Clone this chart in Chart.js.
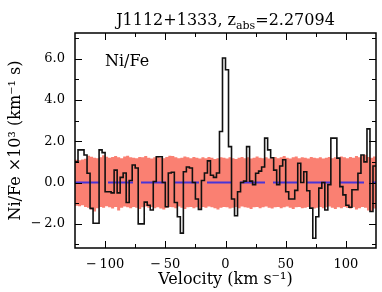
<!DOCTYPE html>
<html>
<head>
<meta charset="utf-8">
<script src="https://cdn.jsdelivr.net/npm/chart.js@4/dist/chart.umd.min.js"></script>
<style>
html, body { margin: 0; padding: 0; background: #fff; }
</style>
</head>
<body>
<canvas id="ratioChart" width="382" height="292"></canvas>
<script>
// velocity grid: 100 bins of 2.5 km/s from -125 to +125
const velStart = -125;
const binWidth = 2.5;

// Ni/Fe apparent column ratio per bin (x10^3)
const ratio = [
  1.0, 1.58, 1.58, 1.33, 0.45, -1.25, -1.97, -1.97, 1.58, 1.45,
  -0.45, -0.45, -0.5, 0.6, -0.5, 0.25, 0.46, -0.97, 0.1, 0.85,
  0.7, -2.0, -2.0, -0.95, -1.1, -1.33, 0.05, 1.25, 1.25, 0.0,
  -1.17, 0.46, 0.5, -0.97, -1.66, -2.45, 0.52, 0.75, 0.7, 0.0,
  -0.8, -1.3, 0.1, 0.46, 1.05, 0.35, 0.25, 0.46, 2.47, 6.03,
  5.46, 1.74, -0.8, -1.61, -0.45, 0.0, 0.07, 1.74, 0.07, -0.1,
  0.45, 0.55, 0.75, 2.15, 1.58, 1.2, 0.6, -0.1, 0.8, 1.1,
  -0.45, -0.8, -0.8, -0.38, 0.93, 0.0, 0.52, -0.4, -1.24, -2.7,
  -1.66, -0.27, 0.0, -1.33, -0.1, 2.15, 2.15, 1.18, -0.2, -0.6,
  -1.1, -1.2, -0.35, -0.35, 0.45, 1.33, 1.0, 2.6, -1.4, 0.8
];

// 1 sigma error band
const bandHigh = [
  1.10, 1.08, 1.12, 1.15, 1.30, 1.25, 1.20, 1.18, 1.22, 1.32,
  1.25, 1.20, 1.24, 1.28, 1.22, 1.18, 1.26, 1.30, 1.22, 1.20,
  1.18, 1.24, 1.22, 1.28, 1.20, 1.16, 1.22, 1.26, 1.20, 1.18,
  1.24, 1.30, 1.28, 1.22, 1.18, 1.20, 1.26, 1.22, 1.18, 1.24,
  1.20, 1.16, 1.22, 1.18, 1.24, 1.20, 1.14, 1.18, 1.22, 1.20,
  1.16, 1.22, 1.18, 1.14, 1.20, 1.24, 1.18, 1.22, 1.16, 1.20,
  1.26, 1.20, 1.18, 1.22, 1.16, 1.20, 1.24, 1.18, 1.22, 1.28,
  1.20, 1.16, 1.22, 1.26, 1.18, 1.22, 1.20, 1.16, 1.24, 1.20,
  1.18, 1.22, 1.16, 1.20, 1.24, 1.18, 1.22, 1.20, 1.26, 1.22,
  1.18, 1.24, 1.20, 1.28, 1.22, 1.30, 1.34, 1.24, 1.20, 1.26
];
const bandLow = [
  -1.12, -1.15, -1.10, -1.18, -1.22, -1.30, -1.40, -1.25, -1.18, -1.22,
  -1.15, -1.20, -1.26, -1.18, -1.35, -1.22, -1.16, -1.20, -1.24, -1.18,
  -1.22, -1.28, -1.20, -1.16, -1.22, -1.18, -1.24, -1.20, -1.26, -1.30,
  -1.22, -1.18, -1.20, -1.24, -1.16, -1.22, -1.28, -1.20, -1.18, -1.24,
  -1.20, -1.26, -1.18, -1.22, -1.16, -1.20, -1.24, -1.30, -1.22, -1.18,
  -1.20, -1.26, -1.22, -1.18, -1.24, -1.16, -1.20, -1.22, -1.28, -1.20,
  -1.18, -1.24, -1.20, -1.16, -1.22, -1.26, -1.20, -1.18, -1.24, -1.20,
  -1.16, -1.22, -1.28, -1.20, -1.18, -1.24, -1.22, -1.18, -1.20, -1.26,
  -1.22, -1.18, -1.24, -1.20, -1.16, -1.22, -1.28, -1.20, -1.24, -1.18,
  -1.22, -1.26, -1.20, -1.30, -1.24, -1.18, -1.22, -1.35, -1.40, -1.26
];

const xTicks = [-100, -50, 0, 50, 100];
const yTicks = [-2, 0, 2, 4, 6];

// step points at bin edges, last value repeated for the closing edge
function stepData(vals) {
  const pts = vals.map((v, i) => ({ x: velStart + i * binWidth, y: v }));
  pts.push({ x: velStart + vals.length * binWidth, y: vals[vals.length - 1] });
  return pts;
}

const serif = '"DejaVu Serif", "Liberation Serif", serif';
const minusFmt = (v, digits) => (v < 0 ? '\u2212\u2009' : '') + Math.abs(v).toFixed(digits);

// frame, inward ticks, panel label and the title with subscript
const framePlugin = {
  id: 'frame',
  afterDatasetsDraw(chart) {
    const { ctx, chartArea: a, scales: { x, y } } = chart;
    ctx.save();
    ctx.strokeStyle = '#000';
    ctx.lineWidth = 1;
    ctx.beginPath();
    for (let v = -100; v <= 100; v += 25) {
      const len = v % 50 === 0 ? 7 : 4;
      const px = Math.round(x.getPixelForValue(v)) + 0.5;
      ctx.moveTo(px, a.bottom); ctx.lineTo(px, a.bottom - len);
      ctx.moveTo(px, a.top); ctx.lineTo(px, a.top + len);
    }
    for (let v = -3; v <= 7; v += 1) {
      const len = v % 2 === 0 ? 7 : 4;
      const py = Math.round(y.getPixelForValue(v)) + 0.5;
      if (py < a.top + 1 || py > a.bottom - 1) continue;
      ctx.moveTo(a.left, py); ctx.lineTo(a.left + len, py);
      ctx.moveTo(a.right, py); ctx.lineTo(a.right - len, py);
    }
    ctx.stroke();
    ctx.lineWidth = 1.5;
    ctx.strokeRect(a.left, a.top, a.right - a.left, a.bottom - a.top);

    ctx.fillStyle = '#000';
    ctx.textBaseline = 'alphabetic';
    ctx.textAlign = 'left';
    ctx.font = '16px ' + serif;
    ctx.fillText('Ni/Fe', a.left + 30, a.top + 33);

    // title: J1112+1333, z_abs=2.27094
    const big = '16px ' + serif, small = '11px ' + serif;
    const parts = [['J1112+1333, z', big, 0], ['abs', small, 4], ['=2.27094', big, 0]];
    let total = 0;
    parts.forEach(p => { ctx.font = p[1]; total += ctx.measureText(p[0]).width; });
    let tx = (a.left + a.right) / 2 - total / 2;
    parts.forEach(p => {
      ctx.font = p[1];
      ctx.fillText(p[0], tx, 25 + p[2]);
      tx += ctx.measureText(p[0]).width;
    });
    ctx.restore();
  }
};

const ctx = document.getElementById('ratioChart').getContext('2d');
const myChart = new Chart(ctx, {
  type: 'line',
  data: {
    datasets: [{
      label: 'Ni/Fe',
      data: stepData(ratio),
      stepped: true,
      borderColor: '#111',
      borderWidth: 1.6,
      pointRadius: 0,
      fill: false
    }, {
      label: 'zero',
      data: [{ x: velStart, y: 0 }, { x: -velStart, y: 0 }],
      borderColor: 'rgb(72, 52, 215)',
      borderWidth: 2,
      borderDash: [25, 8],
      pointRadius: 0,
      fill: false
    }, {
      label: 'error high',
      data: stepData(bandHigh),
      stepped: true,
      borderWidth: 0,
      pointRadius: 0,
      backgroundColor: 'rgb(250, 128, 114)',
      fill: '+1'
    }, {
      label: 'error low',
      data: stepData(bandLow),
      stepped: true,
      borderWidth: 0,
      pointRadius: 0,
      fill: false
    }]
  },
  options: {
    responsive: false,
    animation: false,
    layout: { padding: { top: 33, right: 6, bottom: 0, left: 0 } },
    plugins: { legend: { display: false }, tooltip: { enabled: false } },
    scales: {
      x: {
        type: 'linear',
        min: -125,
        max: 125,
        grid: { display: false, drawTicks: false },
        border: { display: false },
        ticks: {
          padding: 9,
          color: '#000',
          font: { family: serif, size: 13 },
          callback: v => minusFmt(v, 0)
        },
        title: {
          display: true,
          text: 'Velocity (km s\u207B\u00B9)',
          color: '#000',
          font: { family: serif, size: 16 },
          padding: { top: 0, bottom: 3 }
        },
        afterBuildTicks: s => { s.ticks = xTicks.map(v => ({ value: v })); },
        afterFit: s => { s.height = 44; }
      },
      y: {
        min: -3.17,
        max: 7.24,
        grid: { display: false, drawTicks: false },
        border: { display: false },
        ticks: {
          padding: 10,
          color: '#000',
          font: { family: serif, size: 13 },
          callback: v => minusFmt(v, 1)
        },
        title: {
          display: true,
          text: 'Ni/Fe \u00D710\u00B3 (km\u207B\u00B9 s)',
          color: '#000',
          font: { family: serif, size: 16 },
          padding: { top: 6, bottom: 0 }
        },
        afterBuildTicks: s => { s.ticks = yTicks.map(v => ({ value: v })); },
        afterFit: s => { s.width = 75; }
      }
    }
  },
  plugins: [framePlugin]
});
</script>
</body>
</html>
